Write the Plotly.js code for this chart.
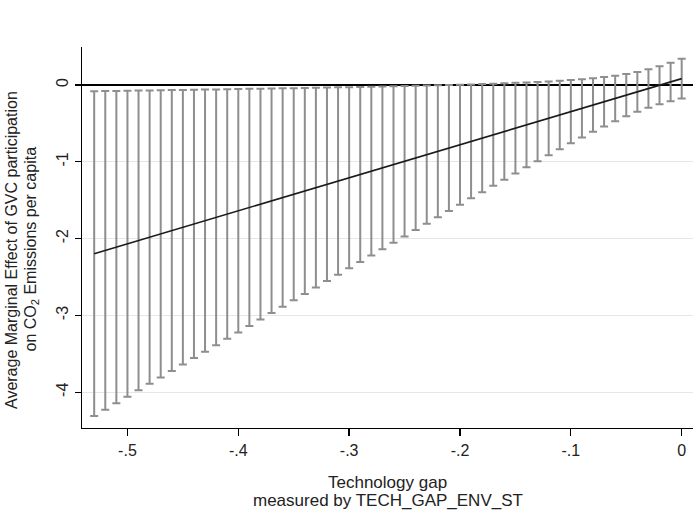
<!DOCTYPE html>
<html>
<head>
<meta charset="utf-8">
<script src="https://cdn.plot.ly/plotly-3.0.1.min.js"></script>
<style>html,body{margin:0;padding:0;background:#fff;}#chart{width:695px;height:511px;}</style>
</head>
<body>
<div id="chart"></div>
<script>
var techGap = [-0.53,-0.52,-0.51,-0.50,-0.49,-0.48,-0.47,-0.46,-0.45,-0.44,-0.43,-0.42,-0.41,-0.40,-0.39,-0.38,-0.37,-0.36,-0.35,-0.34,-0.33,-0.32,-0.31,-0.30,-0.29,-0.28,-0.27,-0.26,-0.25,-0.24,-0.23,-0.22,-0.21,-0.20,-0.19,-0.18,-0.17,-0.16,-0.15,-0.14,-0.13,-0.12,-0.11,-0.10,-0.09,-0.08,-0.07,-0.06,-0.05,-0.04,-0.03,-0.02,-0.01,0.00];
var marginalEffect = [-2.196,-2.153,-2.110,-2.067,-2.024,-1.981,-1.938,-1.895,-1.852,-1.809,-1.766,-1.723,-1.680,-1.637,-1.594,-1.551,-1.508,-1.465,-1.422,-1.379,-1.336,-1.293,-1.250,-1.207,-1.164,-1.121,-1.078,-1.035,-0.992,-0.949,-0.906,-0.863,-0.820,-0.777,-0.734,-0.691,-0.648,-0.605,-0.562,-0.519,-0.476,-0.433,-0.390,-0.347,-0.304,-0.261,-0.218,-0.175,-0.132,-0.089,-0.046,-0.003,0.040,0.083];
var ciHalfWidth = [2.115,2.074,2.033,1.992,1.951,1.910,1.870,1.829,1.788,1.747,1.707,1.666,1.625,1.584,1.544,1.503,1.462,1.422,1.381,1.341,1.300,1.260,1.220,1.179,1.139,1.099,1.059,1.019,0.979,0.939,0.899,0.860,0.821,0.781,0.742,0.704,0.665,0.627,0.590,0.553,0.516,0.480,0.445,0.412,0.380,0.349,0.322,0.297,0.276,0.260,0.250,0.247,0.250,0.260];
var xTickVals = [-0.5,-0.4,-0.3,-0.2,-0.1,0];
var xTickText = ['-.5','-.4','-.3','-.2','-.1','0'];
var yTickVals = [-4,-3,-2,-1,0];
var yTickText = ['-4','-3','-2','-1','0'];
var xTitleLines = ['Technology gap', 'measured by TECH_GAP_ENV_ST'];
var yTitleLines = ['Average Marginal Effect of GVC participation', 'on CO<sub>2</sub> Emissions per capita'];

var ciTrace = {
  x: techGap, y: marginalEffect, type: 'scatter', mode: 'markers',
  marker: {size: 1, opacity: 0},
  error_y: {type: 'data', array: ciHalfWidth, visible: true, symmetric: true,
            color: '#8e8e8e', thickness: 2, width: 4},
  hoverinfo: 'skip', showlegend: false
};
var lineTrace = {
  x: techGap, y: marginalEffect, type: 'scatter', mode: 'lines',
  line: {color: '#1a1a1a', width: 1.6}, showlegend: false
};

var fam = 'Liberation Sans, Arial, sans-serif';
var txt = '#222';
// plot area: left 82, top 47, width 611, height 381
function px2x(p) { return (p - 82) / 611; }
function px2y(p) { return (428 - p) / 381; }

var annotations = [
  {text: xTitleLines[0], xref: 'paper', yref: 'paper', x: px2x(387.5), y: px2y(482), xanchor: 'center', yanchor: 'middle', showarrow: false, font: {family: fam, size: 17, color: txt}},
  {text: xTitleLines[1], xref: 'paper', yref: 'paper', x: px2x(387.5), y: px2y(500), xanchor: 'center', yanchor: 'middle', showarrow: false, font: {family: fam, size: 17, color: txt}},
  {text: yTitleLines[0], xref: 'paper', yref: 'paper', x: px2x(11), y: px2y(250), xanchor: 'center', yanchor: 'middle', textangle: -90, showarrow: false, font: {family: fam, size: 16, color: txt}},
  {text: yTitleLines[1], xref: 'paper', yref: 'paper', x: px2x(31), y: px2y(249.5), xanchor: 'center', yanchor: 'middle', textangle: -90, showarrow: false, font: {family: fam, size: 16, color: txt}}
];

var layout = {
  width: 695, height: 511,
  margin: {l: 82, r: 2, t: 47, b: 83},
  paper_bgcolor: '#fff', plot_bgcolor: '#fff',
  font: {family: fam, size: 16, color: txt},
  showlegend: false,
  annotations: annotations,
  xaxis: {
    range: [-0.541, 0.0102], tickvals: xTickVals, ticktext: xTickText,
    showgrid: false, zeroline: false, showline: true, linecolor: '#000', linewidth: 1.3,
    ticks: 'outside', ticklen: 7, tickwidth: 1.3, tickcolor: '#000',
    tickfont: {family: fam, size: 16, color: txt}
  },
  yaxis: {
    range: [-4.466, 0.495], tickvals: yTickVals, ticktext: yTickText, tickangle: -90,
    showgrid: true, gridcolor: '#e6e6e6', gridwidth: 1.3,
    zeroline: true, zerolinecolor: '#000', zerolinewidth: 1.6,
    showline: true, linecolor: '#000', linewidth: 1.3,
    ticks: 'outside', ticklen: 6, tickwidth: 1.3, tickcolor: '#000',
    tickfont: {family: fam, size: 16, color: txt}
  }
};
Plotly.newPlot('chart', [ciTrace, lineTrace], layout, {staticPlot: true, displayModeBar: false});
</script>
</body>
</html>
